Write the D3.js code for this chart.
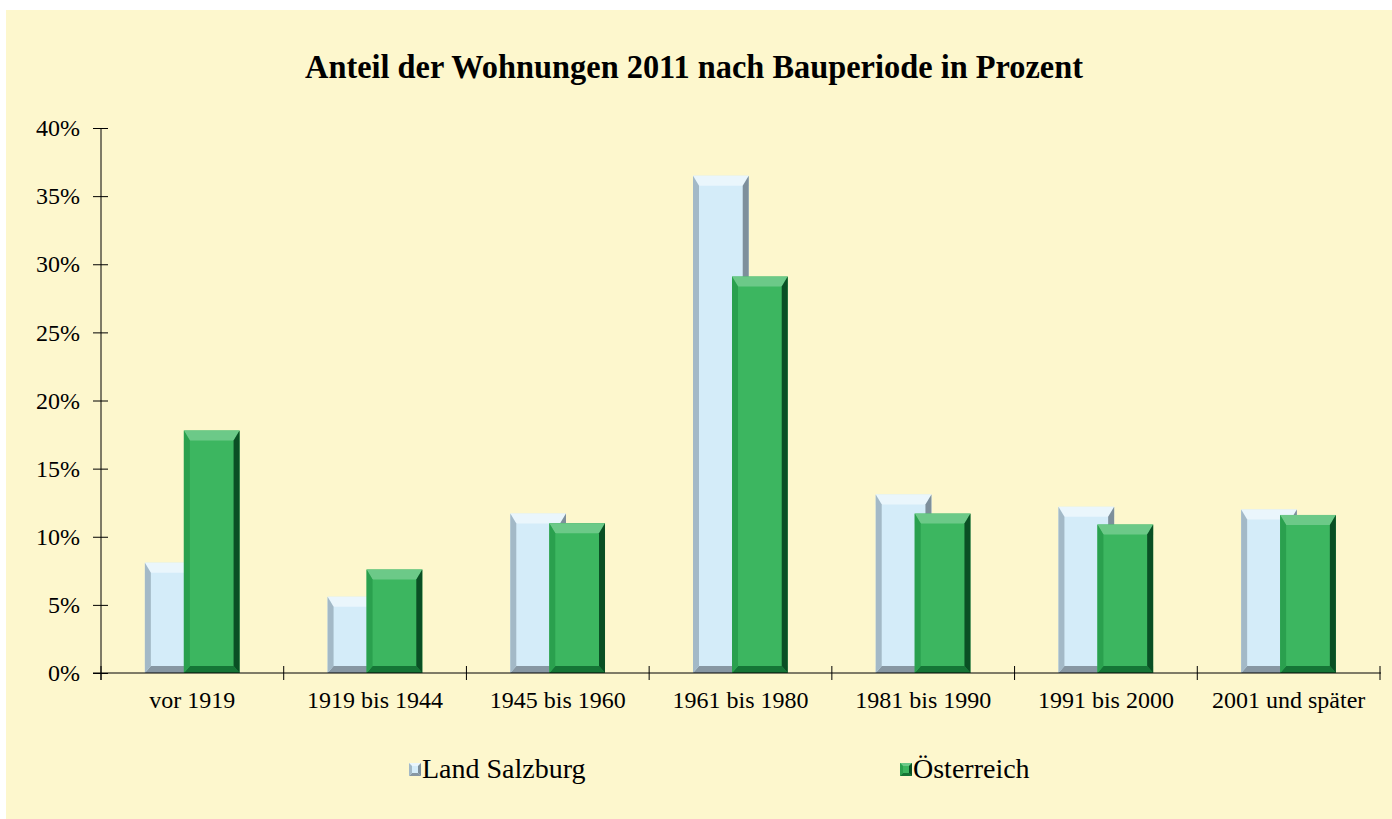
<!DOCTYPE html>
<html><head><meta charset="utf-8">
<script src="https://cdn.jsdelivr.net/npm/d3@7/dist/d3.min.js"></script>
<style>html,body{margin:0;padding:0;background:#fff;}svg{display:block;}</style>
</head><body>
<svg id="chart" width="1392" height="819"></svg>
<script>
const categories = ["vor 1919","1919 bis 1944","1945 bis 1960","1961 bis 1980","1981 bis 1990","1991 bis 2000","2001 und später"];
const salzburg = [8.1, 5.6, 11.7, 36.5, 13.1, 12.2, 12.0];
const oesterreich = [17.8, 7.6, 11.0, 29.1, 11.7, 10.9, 11.6];
const seriesNames = ["Land Salzburg", "Österreich"];
const yTicks = [0,5,10,15,20,25,30,35,40];
const titleText = "Anteil der Wohnungen 2011 nach Bauperiode in Prozent";

const svg = d3.select("#chart");
const W = 1392, H = 819;
svg.append("rect").attr("x",6).attr("y",10).attr("width",W-6).attr("height",H-10).attr("fill","#FDF7CD");

const font = "'Liberation Serif','Times New Roman',serif";
const x = d3.scaleBand().domain(categories).range([101,1380]);
const y = d3.scaleLinear().domain([0,40]).range([673,128]);

svg.append("text").attr("x",694).attr("y",78).attr("text-anchor","middle")
  .attr("font-family",font).attr("font-weight","bold").attr("font-size",34)
  .attr("textLength",778).attr("lengthAdjust","spacingAndGlyphs").text(titleText);

const styles = [
  {face:"#D4ECF9", top:"#EAF6FC", left:"#A3B9C7", right:"#7E8F9B", bottom:"#8797A3"},
  {face:"#3CB660", top:"#6CC988", left:"#2AA04E", right:"#0A4F24", bottom:"#157536"}
];
const bw = x.bandwidth()*0.305;
const offs = [-47.5, -8.5];

function bevelBar(g, x0, y0, w, h, st, t, s, b){
  const x1 = x0+w, y1 = y0+h;
  t = Math.min(t, h/2); b = Math.min(b, h/2);
  g.append("rect").attr("x",x0).attr("y",y0).attr("width",w).attr("height",h).attr("fill",st.face);
  const poly = (pts, fill) => g.append("polygon").attr("points", pts.map(p=>p.join(",")).join(" ")).attr("fill",fill);
  poly([[x0,y0],[x1,y0],[x1-s,y0+t],[x0+s,y0+t]], st.top);
  poly([[x0,y1],[x1,y1],[x1-s,y1-b],[x0+s,y1-b]], st.bottom);
  poly([[x0,y0],[x0+s,y0+t],[x0+s,y1-b],[x0,y1]], st.left);
  poly([[x1,y0],[x1-s,y0+t],[x1-s,y1-b],[x1,y1]], st.right);
}

const gBars = svg.append("g");
[salzburg, oesterreich].forEach((vals, si) => {
  categories.forEach((c, i) => {
    const cx = x(c) + x.bandwidth()/2;
    const x0 = cx + offs[si];
    const y0 = y(vals[i]);
    bevelBar(gBars, x0, y0, bw, y(0)-y0, styles[si], 10, 6, 7);
  });
});

// Y axis
const yAxis = d3.axisLeft(y).tickValues(yTicks).tickFormat(d=>d+"%").tickSize(8).tickPadding(13);
const gy = svg.append("g").attr("transform","translate(101,0)").call(yAxis);
gy.select(".domain").remove();
gy.append("line").attr("x1",0).attr("x2",0).attr("y1",y(40)).attr("y2",680).attr("stroke","#000");
gy.selectAll(".tick line").attr("x1",7).attr("x2",-8).attr("stroke","#000");
gy.selectAll(".tick text").attr("font-family",font).attr("font-size",24).attr("fill","#000");

// X axis
const xAxis = d3.axisBottom(x).tickSize(0).tickPadding(18);
const gx = svg.append("g").attr("transform","translate(0,673)").call(xAxis);
gx.select(".domain").attr("stroke","#000").attr("d","M93,0H1381");
gx.selectAll(".tick text").attr("font-family",font).attr("font-size",24).attr("fill","#000");
const bounds = categories.map(c=>x(c)).concat([x.range()[1]]);
gx.selectAll(".bound").data(bounds).enter().append("line")
  .attr("x1",d=>d).attr("x2",d=>d).attr("y1",-7).attr("y2",7).attr("stroke","#000");

// Legend
const legX = [409, 900];
const lg = svg.append("g");
seriesNames.forEach((n, i) => {
  bevelBar(lg, legX[i], 763, 12, 13, styles[i], 3, 3, 3);
  lg.append("text").attr("x",legX[i]+13).attr("y",778).attr("font-family",font).attr("font-size",28).text(n);
});
</script>
</body></html>
